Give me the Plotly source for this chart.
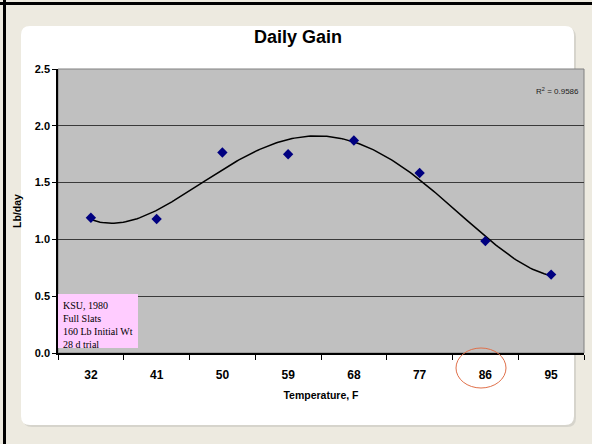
import plotly.graph_objects as go
import numpy as np

# data
temps = [32, 41, 50, 59, 68, 77, 86, 95]
gain = [1.19, 1.18, 1.765, 1.75, 1.87, 1.585, 0.985, 0.69]
y_ticks = [0.0, 0.5, 1.0, 1.5, 2.0, 2.5]
note_lines = ["KSU, 1980", "Full Slats", "160 Lb Initial Wt", "28 d trial"]
r2_text = "R<sup>2</sup> = 0.9586"

W, H = 592, 444
L, R, T, B = 58, 8, 69, 91


def px(x):
    return (x - L) / (W - L - R)


def py(y):
    return (H - B - y) / (H - T - B)


def rounded_rect(x0, y0, x1, y1, r):
    # pixel coords -> paper coords path with rounded corners
    pts = [
        f"M{px(x0 + r)},{py(y0)}",
        f"L{px(x1 - r)},{py(y0)}",
        f"Q{px(x1)},{py(y0)} {px(x1)},{py(y0 + r)}",
        f"L{px(x1)},{py(y1 - r)}",
        f"Q{px(x1)},{py(y1)} {px(x1 - r)},{py(y1)}",
        f"L{px(x0 + r)},{py(y1)}",
        f"Q{px(x0)},{py(y1)} {px(x0)},{py(y1 - r)}",
        f"L{px(x0)},{py(y0 + r)}",
        f"Q{px(x0)},{py(y0)} {px(x0 + r)},{py(y0)}",
        "Z",
    ]
    return " ".join(pts)


# polynomial trendline (Excel style)
coef = np.polyfit(temps, gain, 4)
xs = np.linspace(temps[0], temps[-1], 200)
ys = np.polyval(coef, xs)

fig = go.Figure()
fig.add_trace(go.Scatter(x=xs, y=ys, mode="lines",
                         line=dict(color="black", width=1.5), hoverinfo="skip"))
fig.add_trace(go.Scatter(x=temps, y=gain, mode="markers",
                         marker=dict(symbol="diamond", size=8, color="#000080")))

shapes = [
    # card shadow + white card
    dict(type="path", xref="paper", yref="paper", layer="below",
         path=rounded_rect(23, 28, 576, 427, 9), fillcolor="#D6D4CC", line=dict(width=0)),
    dict(type="path", xref="paper", yref="paper", layer="below",
         path=rounded_rect(21, 26, 574, 425, 9), fillcolor="white", line=dict(width=0)),
    # gray plot area
    dict(type="rect", xref="paper", yref="paper", layer="below",
         x0=0, x1=1, y0=0, y1=1, fillcolor="#C0C0C0", line=dict(color="#808080", width=1)),
    # outer black frame (left + top)
    dict(type="line", xref="paper", yref="paper", x0=px(4.5), x1=px(4.5), y0=py(0), y1=py(H),
         line=dict(color="black", width=3)),
    dict(type="line", xref="paper", yref="paper", x0=px(0), x1=px(W), y0=py(3.5), y1=py(3.5),
         line=dict(color="black", width=3)),
    # pink note box
    dict(type="rect", xref="paper", yref="paper", x0=px(58), x1=px(138), y0=py(294), y1=py(348),
         fillcolor="#FFCCFF", line=dict(width=0)),
    # red ellipse around 86
    dict(type="circle", xref="paper", yref="paper", x0=px(456), x1=px(506), y0=py(348), y1=py(388),
         line=dict(color="#E0704A", width=1)),
]

annotations = [
    dict(text="<b>Daily Gain</b>", xref="paper", yref="paper", x=px(298), y=py(37),
         showarrow=False, font=dict(family="Liberation Sans", size=18, color="black"),
         xanchor="center", yanchor="middle"),
    dict(text=r2_text, xref="paper", yref="paper", x=px(581), y=py(91),
         showarrow=False, font=dict(family="Liberation Sans", size=8, color="#222"),
         xanchor="right", yanchor="middle"),
    dict(text="<br>".join(note_lines), xref="paper", yref="paper", x=px(61), y=py(298),
         showarrow=False, align="left", xanchor="left", yanchor="top",
         font=dict(family="Liberation Serif", size=10, color="black")),
]

fig.update_layout(
    width=W, height=H,
    margin=dict(l=L, r=R, t=T, b=B, autoexpand=False),
    paper_bgcolor="#EDEAE0",
    plot_bgcolor="rgba(0,0,0,0)",
    showlegend=False,
    shapes=shapes,
    annotations=annotations,
    font=dict(family="Liberation Sans", color="black"),
)
fig.update_xaxes(
    range=[27.5, 99.5], tickvals=temps, ticktext=[str(t) for t in temps],
    ticks="", showgrid=False, zeroline=False, automargin=False,
    showline=True, linecolor="black", linewidth=1.5,
    tickfont=dict(size=12, family="Liberation Sans", weight="bold"),
    ticklabelstandoff=10,
    minor=dict(tick0=27.5, dtick=9, ticks="outside", ticklen=5, tickcolor="black", showgrid=False),
    title=dict(text="Temperature, F", font=dict(size=10.5, weight="bold"), standoff=10),
)
fig.update_yaxes(
    range=[0, 2.5], tickvals=y_ticks, tickformat=".1f",
    ticks="outside", ticklen=4, tickcolor="black",
    showgrid=True, gridcolor="#3A3A3A", gridwidth=1, zeroline=False, automargin=False,
    showline=True, linecolor="black", linewidth=1.5,
    tickfont=dict(size=11, family="Liberation Sans", weight="bold"),
    title=dict(text="Lb/day", font=dict(size=10.5, weight="bold"), standoff=11),
)

# drop the default body margin so the figure sits at the window's top-left
fig.write_html("out.html", config={"displayModeBar": False},
               post_script="document.body.style.margin='0';")
